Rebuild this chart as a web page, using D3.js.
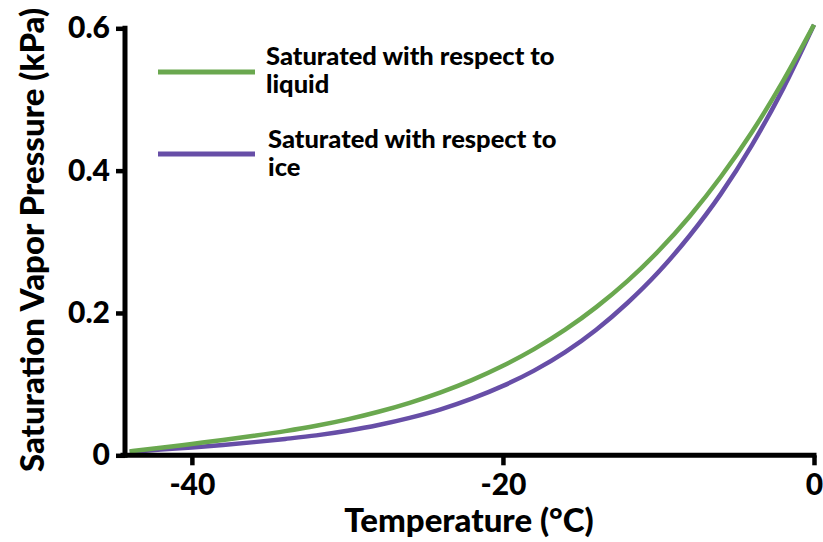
<!DOCTYPE html>
<html>
<head>
<meta charset="utf-8">
<script src="https://cdn.jsdelivr.net/npm/d3@7"></script>
<style>
  html, body { margin: 0; padding: 0; background: #fff; }
  svg { display: block; font-family: Lato, "Open Sans", sans-serif; font-weight: 900; }
</style>
</head>
<body>
<svg id="chart" width="823" height="542"></svg>
<script>
// ---- data ----
const temperatures = [-44, -42, -40, -38, -36, -34, -32, -30, -28, -26, -24, -22, -20, -18, -16, -14, -12, -10, -8, -6, -4, -2, 0];
const liquidKPa = [0.0055, 0.0105, 0.0160, 0.0215, 0.0275, 0.0340, 0.0415, 0.0505, 0.0612, 0.0738, 0.0885, 0.1057, 0.1258, 0.1492, 0.1765, 0.2082, 0.2447, 0.2870, 0.3356, 0.3910, 0.4540, 0.5255, 0.6050];
const iceKPa    = [0.0050, 0.0080, 0.0110, 0.0145, 0.0185, 0.0230, 0.0280, 0.0345, 0.0425, 0.0525, 0.0645, 0.0795, 0.0975, 0.1190, 0.1450, 0.1765, 0.2140, 0.2575, 0.3085, 0.3670, 0.4355, 0.5145, 0.6050];
const xTicks = [-40, -20, 0];
const yTicks = [0, 0.2, 0.4, 0.6];
const seriesNames = ["Saturated with respect to liquid", "Saturated with respect to ice"];
const seriesColors = ["#6aa84f", "#674ea7"];
const xTitle = "Temperature (°C)";
const yTitle = "Saturation Vapor Pressure (kPa)";

const FONT = "Lato, 'Open Sans', sans-serif";
const svg = d3.select("#chart");
const x = d3.scaleLinear().domain([-44.3, 0]).range([125, 814]);
const y = d3.scaleLinear().domain([0, 0.6]).range([455.3, 28.3]);

// curves
const line = d3.line()
  .x(d => x(d[0]))
  .y(d => y(d[1]))
  .curve(d3.curveMonotoneX);

const series = [liquidKPa, iceKPa];
[1, 0].forEach(i => {
  svg.append("path")
    .datum(temperatures.map((t, k) => [t, series[i][k]]))
    .attr("fill", "none")
    .attr("stroke", seriesColors[i])
    .attr("stroke-width", 4.5)
    .attr("d", line);
});

// axes
const xAxis = svg.append("g")
  .attr("transform", `translate(0,${y(0)})`)
  .call(d3.axisBottom(x).tickValues(xTicks).tickSize(10).tickSizeOuter(0).tickPadding(8)
    .tickFormat(d => String(d)));
const yAxis = svg.append("g")
  .attr("transform", `translate(${x(-44.3)},0)`)
  .call(d3.axisLeft(y).tickValues(yTicks).tickSize(9).tickSizeOuter(0).tickPadding(6)
    .tickFormat(d => d === 0 ? "0" : d3.format(".1f")(d)));

[xAxis, yAxis].forEach(g => {
  g.select(".domain").attr("stroke", "#000").attr("stroke-width", 5).attr("stroke-linecap", "square");
  g.selectAll(".tick line").attr("stroke", "#000").attr("stroke-width", 4.5);
  g.selectAll(".tick text").attr("fill", "#000").attr("font-size", 30).attr("font-weight", 900)
    .attr("font-family", FONT);
});
xAxis.select(".domain").attr("d", `M${x(-44.3) - 2},0H${x(0)}`);
yAxis.select(".domain").attr("d", `M0,${y(0)}V${y(0.6)}`);

// axis titles
svg.append("text")
  .attr("x", 469).attr("y", 532)
  .attr("text-anchor", "middle")
  .attr("font-size", 33)
  .attr("fill", "#000")
  .text(xTitle);
svg.append("text")
  .attr("transform", "translate(44,240) rotate(-90)")
  .attr("text-anchor", "middle")
  .attr("font-size", 33)
  .attr("fill", "#000")
  .text(yTitle);

// legend
const legendRows = [
  { y: 72, tx: 266, lines: ["Saturated with respect to", "liquid"], ty: 65 },
  { y: 154, tx: 268, lines: ["Saturated with respect to", "ice"], ty: 148 }
];
legendRows.forEach((r, i) => {
  svg.append("line")
    .attr("x1", 158).attr("x2", 255)
    .attr("y1", r.y).attr("y2", r.y)
    .attr("stroke", seriesColors[i])
    .attr("stroke-width", 5);
  const t = svg.append("text")
    .attr("x", r.tx).attr("y", r.ty)
    .attr("font-size", 25.5)
    .attr("fill", "#000");
  r.lines.forEach((s, k) => {
    t.append("tspan").attr("x", r.tx).attr("dy", k === 0 ? 0 : 28).text(s);
  });
});
</script>
</body>
</html>
